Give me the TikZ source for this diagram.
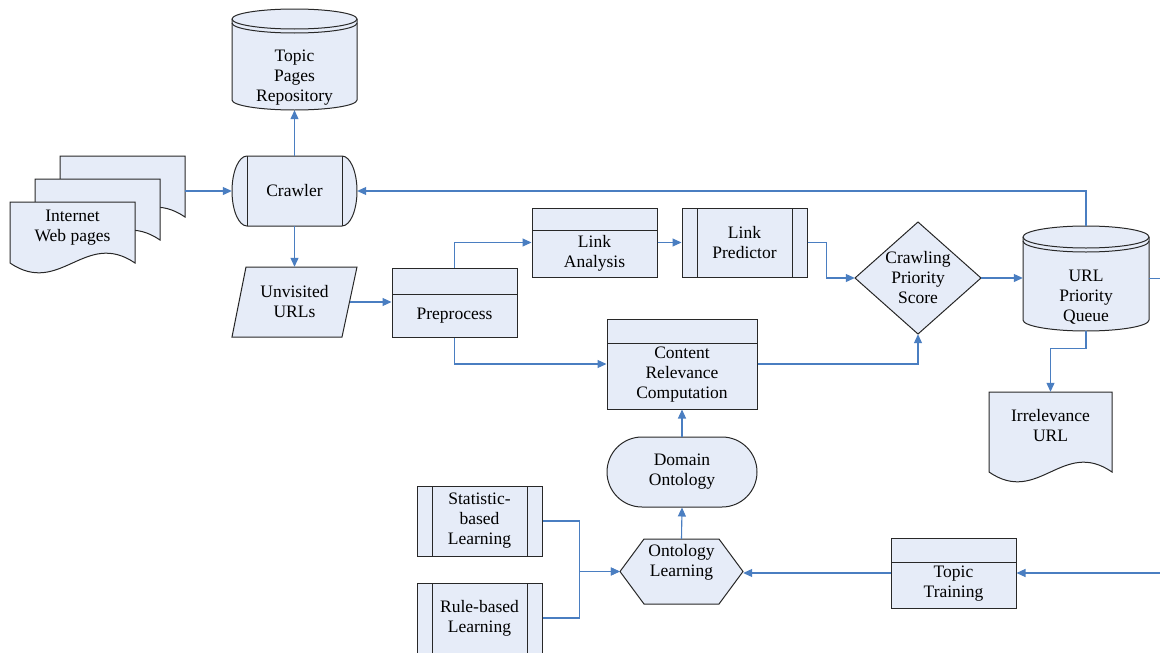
\documentclass[tikz,border=0pt]{standalone}
\usepackage{fontspec}
\setmainfont{Liberation Serif}
\usetikzlibrary{arrows.meta,shapes.misc}
\definecolor{fillc}{RGB}{230,236,248}
\definecolor{linec}{RGB}{40,40,40}
\definecolor{connc}{RGB}{74,126,193}
\newcommand\lbl{\fontsize{17.5pt}{20pt}\selectfont}
\tikzset{
 xshp/.style={draw=linec, fill=fillc, line width=1pt, line join=miter},
 xedge/.style={draw=linec, line width=1pt},
 xanc/.style={rectangle, draw=none, fill=none, inner sep=0pt, align=center, font=\lbl},
 xtxt/.style={align=center, inner sep=0pt, font=\lbl},
 xbox/.style={xshp, rectangle, inner sep=0pt, align=center, font=\lbl},
 xhdr/.style={xbox, path picture={\draw[linec, line width=1pt] ([yshift=-#1]path picture bounding box.north west) -- ([yshift=-#1]path picture bounding box.north east);}},
 xpp/.style={xbox, path picture={\draw[linec, line width=1pt] ([xshift=15pt]path picture bounding box.north west) -- ([xshift=15pt]path picture bounding box.south west) ([xshift=-15pt]path picture bounding box.north east) -- ([xshift=-15pt]path picture bounding box.south east);}},
 xconn/.style={draw=connc, line width=1.1pt, -{Triangle[length=9pt,width=8pt]}},
 xline/.style={draw=connc, line width=1.1pt},
}
% cylinder: x1, x2, ytop, ybottom, ry
\newcommand\cylshape[5]{%
 \pgfmathsetmacro\cyA{(#1+#2)/2}%
 \pgfmathsetmacro\cyK{0.552*(#2-#1)/2}%
 \pgfmathsetmacro\cyT{#3+#5}%
 \pgfmathsetmacro\cyB{#4-#5}%
 \pgfmathsetmacro\cyY{0.552*#5}%
 \pgfmathsetmacro\cyU{#3+#5+4}%
 \path[xshp] (#1,\cyT) -- (#1,\cyB) .. controls (#1,\cyB+\cyY) and (\cyA-\cyK,#4) .. (\cyA,#4) .. controls (\cyA+\cyK,#4) and (#2,\cyB+\cyY) .. (#2,\cyB) -- (#2,\cyT) .. controls (#2,\cyT-\cyY) and (\cyA+\cyK,#3) .. (\cyA,#3) .. controls (\cyA-\cyK,#3) and (#1,\cyT-\cyY) .. (#1,\cyT) -- cycle;
 \draw[xedge] (#1,\cyT) .. controls (#1,\cyT+\cyY) and (\cyA-\cyK,\cyT+#5) .. (\cyA,\cyT+#5) .. controls (\cyA+\cyK,\cyT+#5) and (#2,\cyT+\cyY) .. (#2,\cyT);
 \draw[xedge] (#1,\cyU) .. controls (#1,\cyU+\cyY) and (\cyA-\cyK,\cyU+#5) .. (\cyA,\cyU+#5) .. controls (\cyA+\cyK,\cyU+#5) and (#2,\cyU+\cyY) .. (#2,\cyU);
}
% document page: x1, ytop, x2, ybottom
\newcommand\docpage[4]{%
 \path[xshp] (#1,#2) -- (#3,#2) -- (#3,#4) .. controls ({#1+0.6*(#3-#1)},{#4-34}) and ({#1+0.4*(#3-#1)},{#4+34}) .. (#1,#4) -- cycle;
}
\begin{document}
\begin{tikzpicture}[x=1pt,y=-1pt]
\fill[white] (0,0) rectangle (1160,653);
\useasboundingbox (0,0) rectangle (1160,653);

% Internet web pages
\docpage{60}{156}{185}{217}
\docpage{35}{179}{160}{240}
\docpage{10}{202}{135}{263}
\node[xanc, minimum width=175pt, minimum height=116pt] (web) at (97.5,214) {};
\node[xtxt] (webtxt) at (72.5,228) {Internet\\Web pages};

% Topic pages repository
\cylshape{232}{357}{9}{110}{10}
\node[xanc, minimum width=125pt, minimum height=101pt] (repo) at (294.5,59.5) {};
\node[xtxt] (repotxt) at (294.5,78) {Topic\\Pages\\Repository};

% Crawler
\path[xshp] (247,156) -- (342,156) .. controls (350.3,156) and (357,171.7) .. (357,191) .. controls (357,210.3) and (350.3,226) .. (342,226) -- (247,226) .. controls (238.7,226) and (232,210.3) .. (232,191) .. controls (232,171.7) and (238.7,156) .. (247,156) -- cycle;
\draw[xedge] (247,156) -- (247,226) (342,156) -- (342,226);
\node[xanc, minimum width=125pt, minimum height=70pt] (crawler) at (294.5,191) {Crawler};

% Unvisited URLs
\path[xshp] (246,267) -- (357,267) -- (342,337) -- (232,337) -- cycle;
\node[xanc, minimum width=125pt, minimum height=70pt] (unv) at (294.5,302) {Unvisited\\URLs};

% Preprocess
\node[xhdr=26pt, minimum width=125pt, minimum height=69pt] (pre) at (454.5,302.5) {};
\node[xtxt] (pretxt) at (454.5,315.5) {Preprocess};

% Link analysis
\node[xhdr=22pt, minimum width=125pt, minimum height=69pt] (la) at (594.5,242.5) {};
\node[xtxt] (latxt) at (594.5,253) {Link\\Analysis};

% Link predictor
\node[xpp, minimum width=125pt, minimum height=69pt] (lp) at (744.5,242.5) {Link\\Predictor};

% Crawling priority score
\path[xshp] (918,222) -- (981,278) -- (918,334) -- (855,278) -- cycle;
\node[xanc, minimum width=126pt, minimum height=112pt] (cps) at (918,278) {Crawling\\Priority\\Score};

% URL priority queue
\cylshape{1023}{1149}{226}{331}{11}
\node[xanc, minimum width=126pt, minimum height=105pt] (queue) at (1086,278.5) {};
\node[xtxt] (queuetxt) at (1086,297) {URL\\Priority\\Queue};

% Irrelevance URL
\docpage{989}{392}{1112}{472}
\node[xanc, minimum width=123pt, minimum height=80pt] (irr) at (1050.5,432) {};
\node[xtxt] (irrtxt) at (1050.5,426) {Irrelevance\\URL};

% Content relevance computation
\node[xhdr=24pt, minimum width=150pt, minimum height=90pt] (crc) at (682,364) {};
\node[xtxt] (crctxt) at (682,375) {Content\\Relevance\\Computation};

% Domain ontology
\node[xshp, rounded rectangle, minimum width=150pt, minimum height=70pt, inner sep=0pt, align=center, font=\lbl] (dom) at (682,472) {Domain\\Ontology};

% Ontology learning
\path[xshp] (620,571.5) -- (644,539) -- (719,539) -- (743,571.5) -- (719,604) -- (644,604) -- cycle;
\node[xanc, minimum width=123pt, minimum height=65pt] (ol) at (681.5,571.5) {};
\node[xtxt] (oltxt) at (681.5,562) {Ontology\\Learning};

% Learning methods
\node[xpp, minimum width=125pt, minimum height=70pt] (sbl) at (479.5,521) {Statistic-\\based\\Learning};
\node[xpp, minimum width=125pt, minimum height=70pt] (rbl) at (479.5,618) {Rule-based\\Learning};

% Topic training
\node[xhdr=24pt, minimum width=125pt, minimum height=70pt] (tt) at (953.5,573) {};
\node[xtxt] (tttxt) at (953.5,584) {Topic\\Training};

% connectors
\draw[xconn] (web.east |- crawler.west) -- (crawler.west);
\draw[xconn] (crawler.north) -- (repo.south);
\draw[xconn] (crawler.south) -- (unv.north);
\draw[xconn] ([xshift=-7.5pt]unv.east) -- (pre.west |- unv.east);
\draw[xconn] (pre.north) |- (la.west);
\draw[xconn] (pre.south) |- (crc.west);
\draw[xconn] (la.east) -- (lp.west);
\draw[xconn] (lp.east) -- ++(19,0) |- (cps.west);
\draw[xconn] (crc.east) -| (cps.south);
\draw[xconn] (cps.east) -- (cps.east -| queue.west);
\draw[xconn] (queue.north) |- (crawler.east);
\coordinate (qout) at (1160,278.5);
\draw[xline] (queue.east) -- (qout);
\draw[xconn] (queue.south) -- ++(0,17) -| (irr.north);
\draw[xconn] (dom.north) -- (crc.south);
\draw[xconn] (ol.north) -- (dom.south);
\draw[xconn] (sbl.east) -- ++(37,0) |- (ol.west);
\draw[xconn] (rbl.east) -- ++(37,0) |- (ol.west);
\draw[xconn] (tt.west) -- (tt.west -| ol.east);
\coordinate (tin) at (1160,573);
\draw[xconn] (tin) -- (tt.east);
\end{tikzpicture}
\end{document}
